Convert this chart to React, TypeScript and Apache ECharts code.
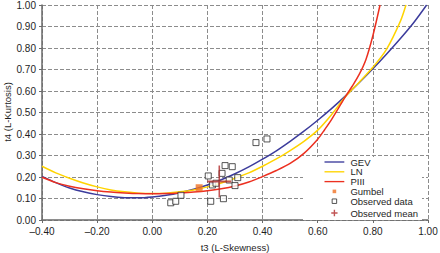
import React, { useEffect, useRef } from "react";
import * as echarts from "echarts";

// ---- Data ----
const X_MIN = -0.4;
const X_MAX = 1.0;
const X_STEP = 0.2;
const Y_MIN = 0;
const Y_MAX = 1.0;
const Y_STEP = 0.1;

const GEV_T3 = [-0.4, -0.35, -0.3, -0.25, -0.2, -0.15, -0.1, -0.05, 0, 0.05, 0.1, 0.15, 0.2, 0.25, 0.3, 0.35, 0.4, 0.45, 0.5, 0.55, 0.6, 0.65, 0.7, 0.75, 0.8, 0.85, 0.9, 0.95, 0.995];
const GEV_T4 = [0.203, 0.174, 0.149, 0.131, 0.118, 0.109, 0.104, 0.103, 0.107, 0.115, 0.127, 0.143, 0.163, 0.187, 0.215, 0.247, 0.283, 0.322, 0.366, 0.413, 0.464, 0.518, 0.576, 0.638, 0.703, 0.772, 0.844, 0.921, 1.0];

const LN_T3 = [-0.4, -0.35, -0.3, -0.25, -0.2, -0.15, -0.1, -0.05, 0, 0.05, 0.1, 0.15, 0.2, 0.25, 0.3, 0.35, 0.4, 0.45, 0.5, 0.55, 0.6, 0.65, 0.7, 0.75, 0.8, 0.85, 0.9, 0.92];
const LN_T4 = [0.25, 0.219, 0.194, 0.172, 0.154, 0.14, 0.131, 0.125, 0.123, 0.125, 0.131, 0.14, 0.154, 0.172, 0.194, 0.219, 0.25, 0.284, 0.323, 0.366, 0.418, 0.49, 0.573, 0.64, 0.71, 0.795, 0.925, 1.0];

const PIII_T3 = [-0.4, -0.35, -0.3, -0.25, -0.2, -0.15, -0.1, -0.05, 0, 0.05, 0.1, 0.15, 0.2, 0.25, 0.3, 0.35, 0.4, 0.45, 0.5, 0.55, 0.6, 0.625, 0.65, 0.7, 0.725, 0.75, 0.775, 0.8, 0.826];
const PIII_T4 = [0.199, 0.174, 0.157, 0.145, 0.136, 0.13, 0.126, 0.123, 0.122, 0.123, 0.126, 0.13, 0.136, 0.145, 0.158, 0.177, 0.202, 0.23, 0.263, 0.31, 0.376, 0.42, 0.467, 0.573, 0.622, 0.676, 0.747, 0.857, 1.0];

const GUMBEL_T3 = [0.17];
const GUMBEL_T4 = [0.15];

const OBS_T3 = [0.067, 0.085, 0.104, 0.212, 0.258, 0.203, 0.253, 0.264, 0.29, 0.279, 0.31, 0.3, 0.218, 0.231, 0.376, 0.416];
const OBS_T4 = [0.08, 0.087, 0.115, 0.087, 0.099, 0.205, 0.217, 0.253, 0.248, 0.186, 0.197, 0.16, 0.163, 0.171, 0.36, 0.377];

const MEAN_T3 = [0.243];
const MEAN_T4 = [0.179];

const SERIES_NAMES = ["GEV", "LN", "PIII", "Gumbel", "Observed data", "Observed mean"];

const X_TITLE = "t3 (L-Skewness)";
const Y_TITLE = "t4 (L-Kurtosis)";

const zip = (xs: number[], ys: number[]) => xs.map((x, i) => [x, ys[i]]);

const FONT = "'Liberation Sans', Arial, Helvetica, sans-serif";
const TEXT = "#1e1e1e";
const AXIS = "#6a6a6a";
const GRID = "#8c8c8c";

const GEV_COLOR = "#3c3c9c";
const LN_COLOR = "#ffd400";
const PIII_COLOR = "#ec3020";
const GUMBEL_COLOR = "#f07224";
const OBS_COLOR = "#2a2a2a";
const MEAN_COLOR = "#b22a2a";

const LINE_ICON = "path://M0,0M22,10M0,4.25H22V5.75H0Z";

const fmt = (v: number) => (v < -1e-9 ? "\u2013" + Math.abs(v).toFixed(2) : Math.abs(v).toFixed(2));

export default function App() {
  const ref = useRef<HTMLDivElement>(null);

  useEffect(() => {
    if (!ref.current) return;
    const chart = echarts.init(ref.current, null, { renderer: "svg" });

    const axisCommon = {
      type: "value" as const,
      axisLine: { show: true, onZero: false, lineStyle: { color: AXIS, width: 1.5 } },
      axisTick: { show: true, inside: false, length: 3, lineStyle: { color: AXIS, width: 1 } },
      splitLine: { show: true, lineStyle: { color: GRID, width: 1, type: [4, 2] } },
      axisLabel: { color: TEXT, fontSize: 10, fontFamily: FONT, margin: 6, formatter: fmt },
      nameLocation: "middle" as const,
      nameTextStyle: { color: TEXT, fontSize: 9.5, fontFamily: FONT },
    };

    const lineSeries = (name: string, xs: number[], ys: number[], color: string, z: number) => ({
      name,
      type: "line",
      data: zip(xs, ys),
      smooth: 0.3,
      symbol: "none",
      showSymbol: false,
      lineStyle: { color, width: 1.5 },
      itemStyle: { color },
      z,
    });

    chart.setOption({
      animation: false,
      backgroundColor: "#fff",
      grid: { left: 42, right: 12, top: 5, bottom: 33, containLabel: false, outerBoundsMode: "none" },
      xAxis: {
        ...axisCommon,
        min: X_MIN,
        max: X_MAX,
        interval: X_STEP,
        name: X_TITLE,
        nameGap: 22,
      },
      yAxis: {
        ...axisCommon,
        min: Y_MIN,
        max: Y_MAX,
        interval: Y_STEP,
      },
      graphic: [
        {
          type: "text",
          x: 7,
          y: 112,
          rotation: Math.PI / 2,
          silent: true,
          style: {
            text: Y_TITLE,
            fill: TEXT,
            fontSize: 9.5,
            fontFamily: FONT,
            align: "center",
            verticalAlign: "middle",
          },
        },
      ],
      legend: {
        orient: "vertical",
        left: 303,
        top: 157,
        backgroundColor: "#fff",
        padding: [0, 4, 0, 19],
        itemWidth: 22,
        itemHeight: 9,
        itemGap: -0.2,
        selectedMode: false,
        textStyle: { color: TEXT, fontSize: 9.5, fontFamily: FONT, lineHeight: 9 },
        data: [
          { name: SERIES_NAMES[0], icon: LINE_ICON, itemStyle: { color: GEV_COLOR } },
          { name: SERIES_NAMES[1], icon: LINE_ICON, itemStyle: { color: LN_COLOR } },
          { name: SERIES_NAMES[2], icon: LINE_ICON, itemStyle: { color: PIII_COLOR } },
          { name: SERIES_NAMES[3], icon: "path://M0,0M22,10M9,3H13V7H9Z", itemStyle: { color: GUMBEL_COLOR } },
          {
            name: SERIES_NAMES[4],
            icon: "path://M0,0M22,10M8.5,2.5H13.5V7.5H8.5Z",
            itemStyle: { color: "#ffffff", borderColor: OBS_COLOR, borderWidth: 1 },
          },
          {
            name: SERIES_NAMES[5],
            icon: "path://M0,0M22,10M7.5,5H14.5M11,1.5V8.5",
            itemStyle: { color: "none", borderColor: MEAN_COLOR, borderWidth: 1.4 },
          },
        ],
      },
      series: [
        lineSeries(SERIES_NAMES[0], GEV_T3, GEV_T4, GEV_COLOR, 2),
        lineSeries(SERIES_NAMES[1], LN_T3, LN_T4, LN_COLOR, 3),
        lineSeries(SERIES_NAMES[2], PIII_T3, PIII_T4, PIII_COLOR, 4),
        {
          name: SERIES_NAMES[3],
          type: "scatter",
          data: zip(GUMBEL_T3, GUMBEL_T4),
          symbol: "rect",
          symbolSize: 7,
          itemStyle: { color: GUMBEL_COLOR },
          z: 6,
        },
        {
          name: SERIES_NAMES[4],
          type: "scatter",
          data: zip(OBS_T3, OBS_T4),
          symbol: "rect",
          symbolSize: 6,
          itemStyle: { color: "#ffffff", borderColor: OBS_COLOR, borderWidth: 1 },
          z: 5,
        },
        {
          name: SERIES_NAMES[5],
          type: "scatter",
          data: zip(MEAN_T3, MEAN_T4),
          symbol: "path://M0,16H24M12,0V32",
          symbolSize: [24, 32],
          symbolKeepAspect: false,
          itemStyle: { color: "none", borderColor: MEAN_COLOR, borderWidth: 1.8 },
          z: 7,
        },
      ],
    });

    return () => chart.dispose();
  }, []);

  return (
    <div
      ref={ref}
      style={{ position: "fixed", left: 0, top: 0, width: 440, height: 253, background: "#fff" }}
    />
  );
}
